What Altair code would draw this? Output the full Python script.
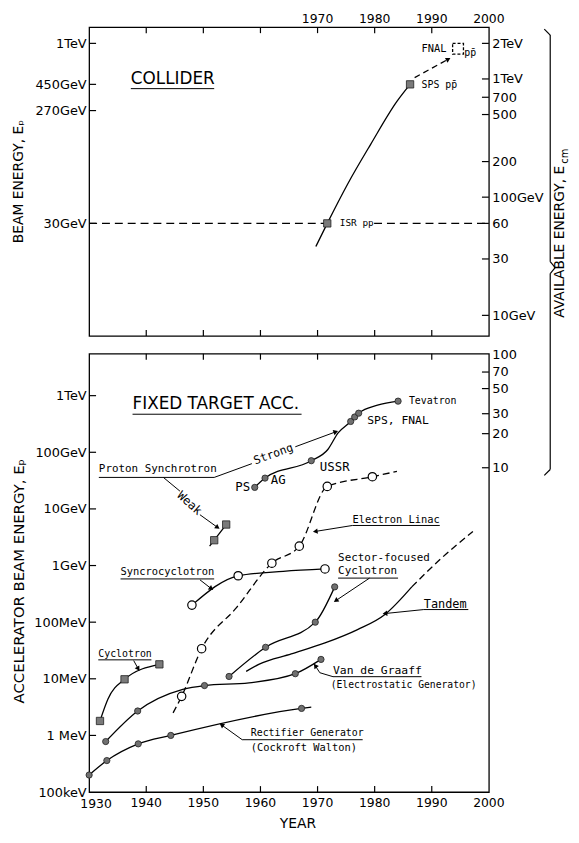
import json
import altair as alt
import pandas as pd

# ---------------- data ----------------
# lower panel: accelerator beam energy in eV
RECT_YEAR = [1930.0, 1933.1, 1938.6, 1944.3, 1967.2, 1968.9]
RECT_E = [2.0e5, 3.6e5, 7.1e5, 1.0e6, 3.0e6, 3.15e6]
RECT_MARK = [1, 1, 1, 1, 1, 0]

VDG_YEAR = [1932.9, 1938.5, 1946.4, 1950.2, 1958.0, 1966.1, 1970.6]
VDG_E = [7.8e5, 2.7e6, 6.5e6, 7.6e6, 8.5e6, 1.23e7, 2.2e7]
VDG_MARK = [1, 1, 0, 1, 0, 1, 1]

CYC_YEAR = [1931.9, 1933.3, 1936.2, 1942.3]
CYC_E = [1.8e6, 4.4e6, 9.8e6, 1.8e7]
CYC_MARK = [1, 0, 1, 1]

SYN_YEAR = [1948.0, 1956.1, 1964.0, 1971.3]
SYN_E = [2.0e8, 6.6e8, 7.9e8, 8.7e8]
SYN_MARK = [1, 1, 0, 1]

LIN_YEAR = [1944.7, 1946.2, 1949.7, 1955.8, 1962.0, 1966.8, 1971.7, 1979.6, 1983.9]
LIN_E = [2.5e6, 4.9e6, 3.4e7, 1.8e8, 1.1e9, 2.2e9, 2.5e10, 3.7e10, 4.6e10]
LIN_MARK = [0, 1, 1, 0, 1, 1, 1, 1, 0]

WEAK_YEAR = [1951.1, 1951.9, 1954.0]
WEAK_E = [2.2e9, 2.8e9, 5.3e9]
WEAK_MARK = [0, 1, 1]

STRONG_YEAR = [1959.0, 1960.8, 1968.9, 1971.8, 1973.6, 1975.8, 1976.5, 1977.2, 1980.5, 1984.1]
STRONG_E = [2.4e10, 3.5e10, 7.1e10, 1.12e11, 2.2e11, 3.5e11, 4.2e11, 4.9e11, 6.8e11, 8.0e11]
STRONG_MARK = [1, 1, 1, 0, 0, 1, 1, 1, 0, 1]

SECTOR_YEAR = [1954.5, 1960.9, 1969.6, 1973.0]
SECTOR_E = [1.1e7, 3.6e7, 1.0e8, 4.2e8]
SECTOR_MARK = [1, 1, 1, 1]

TANDEM_YEAR = [1957.5, 1959.7, 1965.4, 1971.3, 1977.0, 1981.8, 1986.5]
TANDEM_E = [1.35e7, 1.8e7, 2.75e7, 4.3e7, 7.4e7, 1.37e8, 4.2e8]
TANDEM_EXT_YEAR = [1986.5, 1991.7, 1997.2]
TANDEM_EXT_E = [4.2e8, 1.35e9, 4.0e9]

# upper panel: collider beam energy in GeV
COL_YEAR = [1969.7, 1971.7, 1975.3, 1979.3, 1983.9, 1986.2]
COL_E = [19.1, 30, 65, 140, 323, 450]
COL_MARK = [0, 1, 0, 0, 0, 1]
COL_EXT_YEAR = [1987.0, 1992.9]
COL_EXT_E = [513, 735]
FNAL_YEAR = [1994.6]
FNAL_E = [900]
ISR_E = 30

# axes
YEAR_TICKS = [1940, 1950, 1960, 1970, 1980, 1990]
YEAR_LABELS_BOTTOM = [1940, 1950, 1960, 1970, 1980, 1990, 2000]
YEAR_LABEL_FIRST = [1930]
YEAR_LABELS_TOP = [1970, 1980, 1990, 2000]
TOP_LEFT_VALUES = [30, 270, 450, 1000]
TOP_LEFT_LABELS = ["30GeV", "270GeV", "450GeV", "1TeV"]
TOP_RIGHT_ECM = [10, 30, 60, 100, 200, 500, 700, 1000, 2000]
TOP_RIGHT_LABELS = ["10GeV", "30", "60", "100GeV", "200", "500", "700", "1TeV", "2TeV"]
BOT_LEFT_VALUES = [1e5, 1e6, 1e7, 1e8, 1e9, 1e10, 1e11, 1e12]
BOT_LEFT_LABELS = ["100keV", "1 MeV", "10MeV", "100MeV", "1GeV", "10GeV", "100GeV", "1TeV"]
BOT_RIGHT_ECM = [10, 20, 30, 50, 70, 100]
BOT_RIGHT_LABELS = ["10", "20", "30", "50", "70", "100"]

# annotations (text, year, energy, font size)
TOP_TEXT_LEFT = [("ISR pp", 1973.9, 30, 9.5), ("SPS pp\u0304", 1988.2, 440, 10),
                 ("pp\u0304", 1995.7, 830, 10)]
TOP_TEXT_RIGHT = [("FNAL", 1992.6, 895, 10.5)]
BOT_TEXT_LEFT = [
    ("Tevatron", 1986.0, 8.2e11, 10), ("SPS, FNAL", 1978.7, 3.5e11, 11.5),
    ("USSR", 1970.4, 5.6e10, 12.5), ("AG", 1961.8, 3.2e10, 12.5),
    ("Proton Synchrotron", 1931.7, 5.0e10, 11), ("Syncrocyclotron", 1935.5, 7.7e8, 10.5),
    ("Cyclotron", 1931.6, 2.75e7, 10), ("Electron Linac", 1976.1, 6.4e9, 10.5),
    ("Sector-focused", 1973.6, 1.35e9, 11), ("Cyclotron", 1973.6, 8.0e8, 11),
    ("Tandem", 1988.6, 2.1e8, 12), ("Van de Graaff", 1972.7, 1.39e7, 11.5),
    ("(Electrostatic Generator)", 1972.3, 7.9e6, 9.8),
    ("Rectifier Generator", 1958.3, 1.11e6, 10), ("(Cockroft Walton)", 1958.3, 6.1e5, 10.5),
]
BOT_TEXT_RIGHT = [("PS", 1958.2, 2.4e10, 12.5)]
BOT_TEXT_ROT = [("Strong", 1962.3, 9.1e10, 11.5, 340), ("Weak", 1947.6, 1.27e10, 12, 42)]

# underlines (year from, year to, energy)
TOP_UNDER = [(1937.3, 1951.9, 414)]
BOT_UNDER = [(1937.6, 1967.2, 4.7e11), (1931.7, 1951.9, 3.6e10), (1935.5, 1951.9, 5.8e8),
             (1931.6, 1940.9, 2.16e7), (1976.1, 1991.4, 5.1e9), (1973.6, 1984.1, 6.0e8),
             (1988.6, 1996.4, 1.67e8), (1972.7, 1988.2, 1.09e7), (1956.8, 1977.9, 8.4e5)]

# leader lines (points) and arrow heads (year, energy, angle)
LEADERS = {
    "strong1": [(1951.9, 3.6e10), (1958.5, 6.3e10)],
    "strong2": [(1966.1, 1.25e11), (1973.2, 2.3e11)],
    "weak1": [(1943.0, 3.6e10), (1945.9, 2.06e10)],
    "weak2": [(1949.4, 7.9e9), (1952.5, 4.7e9)],
    "syn": [(1949.4, 5.6e8), (1951.4, 3.9e8)],
    "cyc": [(1937.8, 2.1e7), (1938.6, 1.5e7)],
    "lin": [(1976.1, 5.1e9), (1969.6, 4.0e9)],
    "sec": [(1979.1, 6.0e8), (1973.2, 2.4e8)],
    "tan": [(1988.6, 1.67e8), (1981.8, 1.42e8)],
    "vdg": [(1972.7, 1.09e7), (1970.4, 1.28e7), (1969.6, 1.7e7)],
    "rect": [(1956.8, 8.4e5), (1953.2, 1.53e6)],
}
ARROWS = [(1973.2, 2.3e11, 340), (1952.5, 4.7e9, 36), (1951.4, 3.9e8, 37), (1938.6, 1.5e7, 58),
          (1969.6, 4.0e9, 172), (1973.2, 2.4e8, 146), (1981.8, 1.42e8, 174),
          (1969.6, 1.7e7, 234), (1953.2, 1.53e6, 215)]
TOP_ARROWS = [(1992.9, 735, 332)]

# ---------------- chart ----------------
W, H1, H2 = 404, 312, 443
XS = alt.Scale(domain=[1930, 2000], nice=False, zero=False)
YS1 = alt.Scale(type="log", domain=[3.35, 1370], nice=False)
YS2 = alt.Scale(type="log", domain=[1e5, 5.5e12], nice=False)
MONO = "DejaVu Sans Mono"
SANS = "DejaVu Sans"
AX = dict(ticks=False, domain=False, grid=False, labelFont=SANS, labelFontSize=13,
          labelColor="black", labelPadding=3, title=None)


def X(f="year"):
    return alt.X(f"{f}:Q", scale=XS, axis=None)


def Y(ys, f="E"):
    return alt.Y(f"{f}:Q", scale=ys, axis=None)


def sdf(name, yrs, es, marks=None):
    marks = marks if marks is not None else [1] * len(yrs)
    return pd.DataFrame({"series": name, "year": yrs, "E": es, "mark": marks,
                         "i": list(range(len(yrs)))})


def lookup(values, labels):
    return f"{json.dumps(labels)}[indexof({json.dumps(values)}, datum.value)]"


one = pd.DataFrame({"a": [0]})


def vtext(t, x, y, size, angle=270, align="center"):
    return alt.Chart(one).mark_text(text=t, font=SANS, fontSize=size, angle=angle, align=align,
                                    baseline="middle", color="black").encode(
        x=alt.value(x), y=alt.value(y))


def vrule(x, y, x2, y2):
    return alt.Chart(one).mark_rule(color="black", strokeWidth=1.2).encode(
        x=alt.value(x), y=alt.value(y), x2=alt.value(x2), y2=alt.value(y2))


def year_labels(years, ypix, dx=0):
    df = pd.DataFrame({"year": years, "label": [str(y) for y in years]})
    return alt.Chart(df).mark_text(font=SANS, fontSize=12.5, align="center", baseline="middle",
                                   color="black", dx=dx).encode(
        x=X(), y=alt.value(ypix), text="label:N")


def text_layers(left, right, ys, rot=None):
    out = []
    for rows, align in ((left, "left"), (right, "right")):
        df = pd.DataFrame(rows, columns=["text", "year", "E", "size"])
        out.append(alt.Chart(df).mark_text(font=MONO, align=align, baseline="middle",
                                           color="black").encode(
            x=X(), y=Y(ys), text="text:N", size=alt.Size("size:Q", scale=None)))
    if rot:
        df = pd.DataFrame(rot, columns=["text", "year", "E", "size", "angle"])
        out.append(alt.Chart(df).mark_text(font=MONO, align="center", baseline="middle",
                                           color="black").encode(
            x=X(), y=Y(ys), text="text:N", size=alt.Size("size:Q", scale=None),
            angle=alt.Angle("angle:Q", scale=None)))
    return out


def underline_layer(rows, ys):
    df = pd.DataFrame(rows, columns=["year", "year2", "E"])
    return alt.Chart(df).mark_rule(color="black", strokeWidth=1).encode(
        x=X(), x2="year2:Q", y=Y(ys))


def arrow_layer(rows, ys):
    df = pd.DataFrame(rows, columns=["year", "E", "angle"])
    return alt.Chart(df).mark_point(shape="triangle-right", filled=True, color="black",
                                    size=30, opacity=1).encode(
        x=X(), y=Y(ys), angle=alt.Angle("angle:Q", scale=None))


def tick_layers(ys, h, left_vals, right_vals, raxis):
    yt = pd.DataFrame({"year": YEAR_TICKS})
    lt = pd.DataFrame({"E": left_vals})
    rt = pd.DataFrame({"E": right_vals})
    r = dict(color="black", strokeWidth=1.2)
    return [
        alt.Chart(yt).mark_rule(**r).encode(x=X(), y=alt.value(0), y2=alt.value(6)),
        alt.Chart(yt).mark_rule(**r).encode(x=X(), y=alt.value(h - 6), y2=alt.value(h)),
        alt.Chart(lt).mark_rule(**r).encode(y=Y(ys), x=alt.value(0), x2=alt.value(7)),
        alt.Chart(rt).mark_rule(**r).encode(
            y=alt.Y("E:Q", scale=ys, axis=raxis), x=alt.value(W - 7), x2=alt.value(W)),
    ]


def markers(df, kind, ys):
    d = df[df["mark"] == 1]
    if kind == "filled":
        m = alt.Chart(d).mark_point(shape="circle", filled=True, fill="#707070", stroke="#202020",
                                    strokeWidth=0.8, size=40, opacity=1)
    elif kind == "open":
        m = alt.Chart(d).mark_point(shape="circle", filled=True, fill="white", stroke="black",
                                    strokeWidth=1.2, size=72, opacity=1)
    else:
        m = alt.Chart(d).mark_point(shape="square", filled=True, fill="#7a7a7a", stroke="#202020",
                                    strokeWidth=0.8, size=55, opacity=1)
    return m.encode(x=X(), y=Y(ys))


# ---- upper panel (collider) ----
top_l_axis = alt.Axis(orient="left", values=TOP_LEFT_VALUES,
                      labelExpr=lookup(TOP_LEFT_VALUES, TOP_LEFT_LABELS), **AX)
top_r_vals = [e / 2 for e in TOP_RIGHT_ECM]
top_r_axis = alt.Axis(orient="right", values=top_r_vals,
                      labelExpr=lookup(top_r_vals, TOP_RIGHT_LABELS), **AX)

col = sdf("col", COL_YEAR, COL_E, COL_MARK)
col_ext = sdf("colx", COL_EXT_YEAR, COL_EXT_E)
isr = pd.DataFrame({"year": [1930, 1979.9], "year2": [1971.7, 2000], "E": [ISR_E, ISR_E]})

top_layers = [
    alt.Chart(col).mark_line(interpolate="monotone", color="black", strokeWidth=1.3).encode(
        x=X(), y=alt.Y("E:Q", scale=YS1, axis=top_l_axis)),
]
top_layers += tick_layers(YS1, H1, TOP_LEFT_VALUES, top_r_vals, top_r_axis)
top_layers += [
    year_labels(YEAR_LABELS_TOP, -8),
    alt.Chart(isr).mark_rule(color="black", strokeWidth=1.2, strokeDash=[8, 5]).encode(
        x=X(), x2="year2:Q", y=Y(YS1)),
    alt.Chart(col_ext).mark_line(color="black", strokeWidth=1.3, strokeDash=[6, 4]).encode(
        x=X(), y=Y(YS1)),
    arrow_layer(TOP_ARROWS, YS1),
    markers(col, "square", YS1),
    alt.Chart(pd.DataFrame({"year": FNAL_YEAR, "E": FNAL_E})).mark_point(
        shape="square", filled=False, color="black", strokeWidth=1.3, strokeDash=[3, 2],
        size=120, opacity=1).encode(x=X(), y=Y(YS1)),
    alt.Chart(pd.DataFrame({"text": ["COLLIDER"], "year": [1937.3], "E": [502]})).mark_text(
        font=SANS, fontSize=17, align="left", baseline="middle", color="black").encode(
        x=X(), y=Y(YS1), text="text:N"),
    underline_layer(TOP_UNDER, YS1),
]
top_layers += text_layers(TOP_TEXT_LEFT, TOP_TEXT_RIGHT, YS1)
# axis titles and the brace joining both right axes
top_layers += [
    vtext("BEAM ENERGY, E\u209a", -71, 156, 14),
    vtext("AVAILABLE ENERGY, E", 476, 140, 14, align="right"),
    vtext("cm", 481, 138, 10, align="left"),
    vrule(460, 2, 466, 8), vrule(466, 8, 466, 237), vrule(466, 237, 471, 243),
    vrule(471, 243, 466, 249), vrule(466, 249, 466, 447), vrule(466, 447, 460, 453),
]
top = alt.layer(*top_layers).resolve_axis(y="independent").properties(width=W, height=H1)

# ---- lower panel (fixed target) ----
bot_l_axis = alt.Axis(orient="left", values=BOT_LEFT_VALUES,
                      labelExpr=lookup(BOT_LEFT_VALUES, BOT_LEFT_LABELS), **AX)
bot_r_vals = [e * e / 1.876 * 1e9 for e in BOT_RIGHT_ECM]
bot_r_axis = alt.Axis(orient="right", values=bot_r_vals,
                      labelExpr=lookup(bot_r_vals, BOT_RIGHT_LABELS), **AX)

rect = sdf("rect", RECT_YEAR, RECT_E, RECT_MARK)
vdg = sdf("vdg", VDG_YEAR, VDG_E, VDG_MARK)
cyc = sdf("cyc", CYC_YEAR, CYC_E, CYC_MARK)
syn = sdf("syn", SYN_YEAR, SYN_E, SYN_MARK)
lin = sdf("lin", LIN_YEAR, LIN_E, LIN_MARK)
weak = sdf("weak", WEAK_YEAR, WEAK_E, WEAK_MARK)
strong = sdf("strong", STRONG_YEAR, STRONG_E, STRONG_MARK)
sector = sdf("sector", SECTOR_YEAR, SECTOR_E, SECTOR_MARK)
tandem = sdf("tandem", TANDEM_YEAR, TANDEM_E, [0] * len(TANDEM_YEAR))
tandem_x = sdf("tandemx", TANDEM_EXT_YEAR, TANDEM_EXT_E, [0] * len(TANDEM_EXT_YEAR))

solid = pd.concat([rect, vdg, cyc, syn, weak, strong, sector, tandem])
dashed = pd.concat([lin, tandem_x])
leaders = pd.concat([sdf(k, [p[0] for p in v], [p[1] for p in v]) for k, v in LEADERS.items()])

bot_layers = [
    alt.Chart(solid).mark_line(interpolate="monotone", color="black", strokeWidth=1.3).encode(
        x=X(), y=alt.Y("E:Q", scale=YS2, axis=bot_l_axis), detail="series:N"),
]
bot_layers += tick_layers(YS2, H2, BOT_LEFT_VALUES[1:], bot_r_vals[:-1], bot_r_axis)
bot_layers += [
    year_labels(YEAR_LABELS_BOTTOM, H2 + 11),
    year_labels(YEAR_LABEL_FIRST, H2 + 12, dx=7),
    vtext("YEAR", 211, H2 + 32, 14, angle=0),
    alt.Chart(dashed).mark_line(interpolate="monotone", color="black", strokeWidth=1.3,
                                strokeDash=[7, 4]).encode(x=X(), y=Y(YS2), detail="series:N"),
    alt.Chart(leaders).mark_line(color="black", strokeWidth=1).encode(
        x=X(), y=Y(YS2), detail="series:N", order="i:Q"),
    arrow_layer(ARROWS, YS2),
    markers(pd.concat([cyc, weak]), "square", YS2),
    markers(pd.concat([syn, lin]), "open", YS2),
    markers(pd.concat([rect, vdg, strong, sector]), "filled", YS2),
    alt.Chart(pd.DataFrame({"text": ["FIXED TARGET ACC."], "year": [1937.6], "E": [7.0e11]})
              ).mark_text(font=SANS, fontSize=17, align="left", baseline="middle",
                          color="black").encode(x=X(), y=Y(YS2), text="text:N"),
    underline_layer(BOT_UNDER, YS2),
]
bot_layers += text_layers(BOT_TEXT_LEFT, BOT_TEXT_RIGHT, YS2, BOT_TEXT_ROT)
bot_layers += [vtext("ACCELERATOR BEAM ENERGY, E\u209a", -71, 230, 15)]
bottom = alt.layer(*bot_layers).resolve_axis(y="independent").properties(width=W, height=H2)

chart = alt.vconcat(top, bottom, spacing=18, bounds="flush").configure_view(
    stroke="black", strokeWidth=1.3).properties(
    padding={"left": 3, "top": 0, "right": 0, "bottom": 0})

chart.save("out.html", embed_options={"renderer": "svg", "actions": False})
